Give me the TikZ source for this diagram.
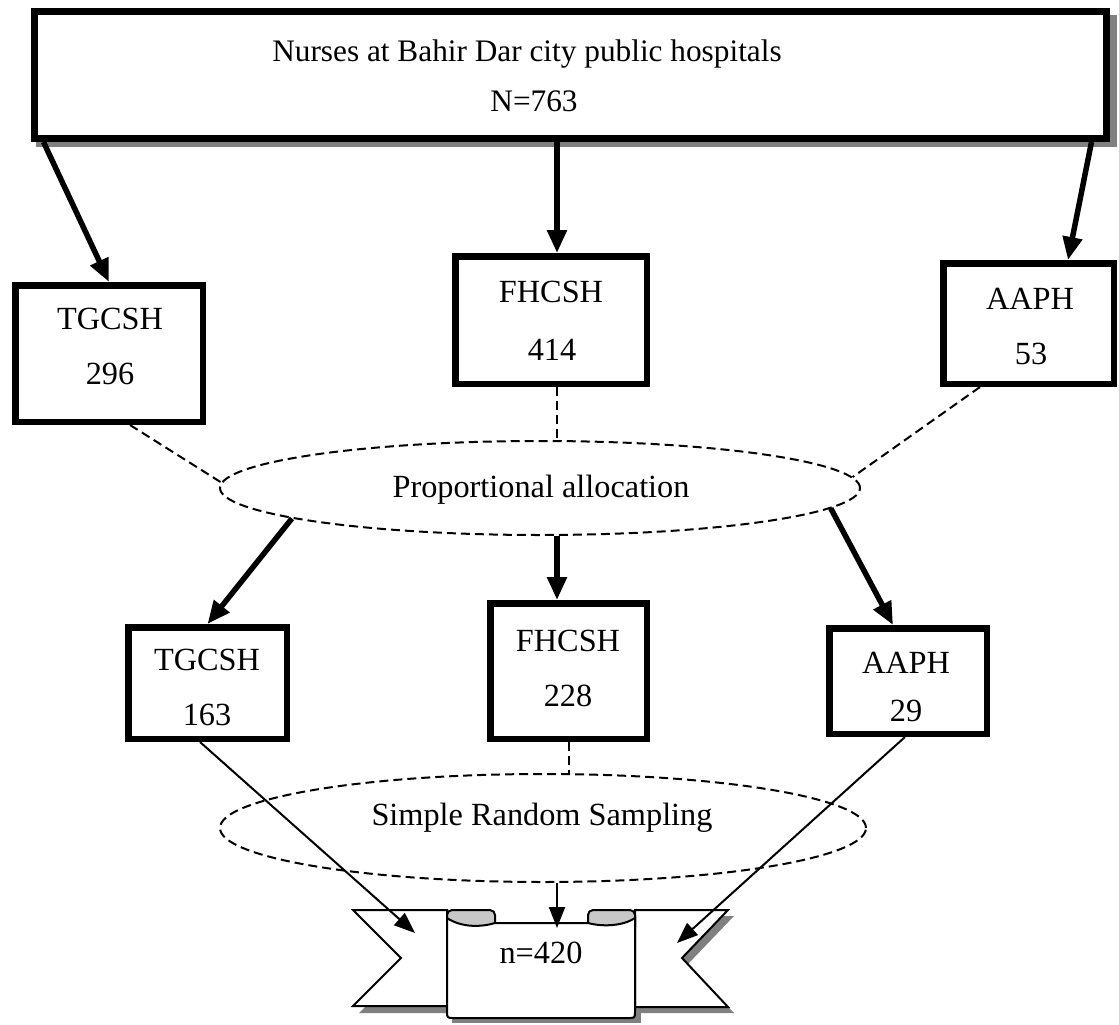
\documentclass[tikz,border=0pt]{standalone}
\usepackage{fontspec}
\setmainfont{Liberation Serif}
\usetikzlibrary{arrows.meta,shapes.geometric,calc}
\definecolor{shadowgray}{HTML}{808080}
\definecolor{rollgray}{HTML}{C8C8C8}
\begin{document}
\begin{tikzpicture}[x=1pt,y=-1pt,
  txt/.style={font=\fontsize{32.3}{38}\selectfont, inner sep=0pt, anchor=base},
  toptxt/.style={font=\fontsize{31.3}{37}\selectfont, inner sep=0pt, anchor=base},
  bigbox/.style={draw, line width=7pt, fill=white, inner sep=0pt},
  hbox/.style={draw, line width=6.5pt, fill=white, inner sep=0pt},
  oval/.style={draw, ellipse, line width=2pt, dash pattern=on 9pt off 5pt, inner sep=0pt},
  thickarr/.style={line width=5.5pt, -{Triangle[length=23pt,width=19pt]}},
  thinarr/.style={line width=2pt, -{Triangle[length=21pt,width=16pt]}},
  dsh/.style={line width=2pt, dash pattern=on 9pt off 5pt}]
\useasboundingbox (0,0) rectangle (1119,1025);

% top box with shadow
\fill[shadowgray] (36,15) rectangle (1117,147);
\node[bigbox, minimum width=1072pt, minimum height=127pt] (top) at (570.5,75) {};
\node[toptxt] (tN) at (527,62) {Nurses at Bahir Dar city public hospitals};
\node[toptxt] (tn) at (534,111) {N=763};

% first row
\node[hbox, minimum width=187.5pt, minimum height=136.5pt] (t1) at (109,353.5) {};
\node[hbox, minimum width=191.5pt, minimum height=127.5pt] (f1) at (551,320) {};
\node[hbox, minimum width=170.5pt, minimum height=120.5pt] (a1) at (1028.5,323.5) {};
\node[txt] (t1a) at (110,329) {TGCSH};
\node[txt] (t1b) at (110,384) {296};
\node[txt] (f1a) at (551,302) {FHCSH};
\node[txt] (f1b) at (552,360) {414};
\node[txt] (a1a) at (1030,309) {AAPH};
\node[txt] (a1b) at (1031,364) {53};

% ellipses
\node[oval, minimum width=640pt, minimum height=94pt] (e1) at (540,488) {};
\node[txt] (e1t) at (541,497) {Proportional allocation};
\node[oval, minimum width=646pt, minimum height=108pt] (e2) at (543,828) {};
\node[txt] (e2t) at (542,825) {Simple Random Sampling};

% second row
\node[hbox, minimum width=158.5pt, minimum height=111.5pt] (t2) at (207.5,683) {};
\node[hbox, minimum width=156.5pt, minimum height=135.5pt] (f2) at (568.5,671) {};
\node[hbox, minimum width=157.5pt, minimum height=105.5pt] (a2) at (908,681) {};
\node[txt] (t2a) at (207,670) {TGCSH};
\node[txt] (t2b) at (207,725) {163};
\node[txt] (f2a) at (568,651) {FHCSH};
\node[txt] (f2b) at (568,706) {228};
\node[txt] (a2a) at (906,673) {AAPH};
\node[txt] (a2b) at (906,721) {29};

% ribbon
\fill[shadowgray] (359,917) -- (453,917) -- (453,1013) -- (359,1013) -- (407,965) -- cycle;
\fill[shadowgray] (734,916) -- (641,916) -- (641,1013) -- (734,1013) -- (688,964) -- cycle;
\fill[shadowgray] (452,930) rectangle (641,1023);
\draw[line width=2pt, fill=white, line join=miter] (353,910) -- (447,910) -- (447,1006) -- (353,1006) -- (401,958) -- cycle;
\draw[line width=2pt, fill=white, line join=miter] (728,910) -- (635,910) -- (635,1007) -- (728,1007) -- (682,958) -- cycle;
\draw[line width=2pt, fill=rollgray, rounded corners=5pt] (447,932) -- (447,910) -- (495,910) -- (495,932) -- cycle;
\draw[line width=2pt, fill=rollgray, rounded corners=5pt] (588,932) -- (588,910) -- (635,910) -- (635,932) -- cycle;
\draw[line width=2pt, fill=white] (447,918) .. controls (462,928) and (482,927) .. (495,923) -- (588,923)
  .. controls (603,927) and (623,926) .. (635,918) -- (635,1011) .. controls (635,1018) .. (628,1018)
  -- (454,1018) .. controls (447,1018) .. (447,1011) -- cycle;
\node[txt] (nn) at (541,963) {n=420};
\coordinate (ribL) at (415,933);
\coordinate (ribR) at (677,943);
\coordinate (ribT) at (557,928);

% arrows from top box
\draw[thickarr] ($(top.south west)+(12.5,0)$) -- (t1.north);
\coordinate (f1tip) at ([xshift=6pt]f1.north);
\draw[thickarr] (top.south -| f1tip) -- (f1tip);
\draw[thickarr] ($(top.south east)+(-18.5,0)$) -- ([xshift=39.5pt]a1.north);

% dashed to ellipse 1
\draw[dsh] ([xshift=21pt]t1.south) -- (e1.179);
\coordinate (f1s) at ([xshift=6pt]f1.south);
\draw[dsh] (f1s) -- (e1.north -| f1s);
\draw[dsh] ([xshift=-48.5pt]a1.south) -- (e1.2);

% arrows from ellipse 1
\draw[thickarr] (e1.187) -- (t2.north);
\coordinate (f2tip) at ([xshift=-11.5pt]f2.north);
\draw[thickarr] (e1.south -| f2tip) -- (f2tip);
\draw[thickarr] (e1.356) -- ([xshift=-15pt]a2.north);

% second level
\draw[dsh] (f2.south) -- (e2.north -| f2.south);
\draw[thinarr] ([xshift=-7.5pt]t2.south) -- (ribL);
\draw[thinarr] ([xshift=-3pt]a2.south) -- (ribR);
\draw[thinarr] (e2.south -| ribT) -- (ribT);
\end{tikzpicture}
\end{document}
